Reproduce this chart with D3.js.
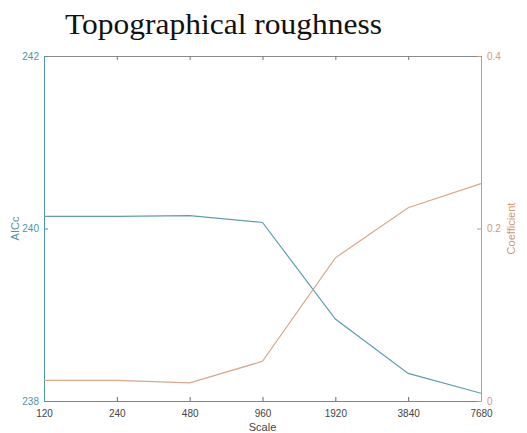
<!DOCTYPE html>
<html><head><meta charset="utf-8">
<script src="https://cdn.jsdelivr.net/npm/d3@7"></script>
<style>body{margin:0;background:#fff}svg{display:block}</style>
</head><body>
<svg id="c" width="527" height="433"></svg>
<script>
const scales = ["120","240","480","960","1920","3840","7680"];
const aicc = [240.14, 240.14, 240.15, 240.07, 238.95, 238.32, 238.09];
const coef = [0.024, 0.024, 0.021, 0.046, 0.166, 0.224, 0.252];
const leftTicks = [238, 240, 242];
const rightTicks = [0, 0.2, 0.4];

const svg = d3.select("#c");
const L = 44, R = 481, T = 56, B = 401;
const blue = "#4f93a8", orange = "#cf9a78";
const blueLine = "#5f9db3", orangeLine = "#d8a88a";
const x = d3.scalePoint().domain(scales).range([L, R]);
const yL = d3.scaleLinear().domain([238, 242]).range([B, T]);
const yR = d3.scaleLinear().domain([0, 0.4]).range([B, T]);

svg.append("rect").attr("x",0).attr("y",0).attr("width",527).attr("height",433).attr("fill","#fff");

// title
svg.append("text").attr("x", 65).attr("y", 34)
  .attr("font-family","Liberation Serif, Times New Roman, serif").attr("font-size",29)
  .attr("textLength",317).attr("lengthAdjust","spacingAndGlyphs")
  .attr("fill","#111").text("Topographical roughness");

// frame top
svg.append("line").attr("x1",L).attr("x2",R).attr("y1",T+0.5).attr("y2",T+0.5).attr("stroke","#8a8a8a");
// bottom axis
const xb = svg.append("g").attr("transform",`translate(0,${B})`)
  .call(d3.axisBottom(x).tickSizeInner(-4).tickSizeOuter(0).tickPadding(9));
xb.select(".domain").attr("stroke","#6f8a92");
xb.selectAll(".tick line").attr("stroke","#666");
xb.selectAll("text").attr("font-family","Liberation Sans, Arial, sans-serif").attr("font-size",10).attr("fill","#444");
// top ticks
svg.append("g").attr("transform",`translate(0,${T})`)
  .call(d3.axisTop(x).tickSizeInner(-4).tickSizeOuter(0).tickFormat(""))
  .call(g=>{g.select(".domain").remove();g.selectAll(".tick line").attr("stroke","#777");});

// left axis
const yl = svg.append("g").attr("transform",`translate(${L},0)`)
  .call(d3.axisLeft(yL).tickValues(leftTicks).tickFormat(d3.format("~g")).tickSizeInner(-4).tickSizeOuter(0).tickPadding(5));
yl.select(".domain").attr("stroke",blue);
yl.selectAll(".tick line").attr("stroke",blue);
yl.selectAll("text").attr("font-family","Liberation Sans, Arial, sans-serif").attr("font-size",10).attr("fill",blue);

// right axis
const yr = svg.append("g").attr("transform",`translate(${R},0)`)
  .call(d3.axisRight(yR).tickValues(rightTicks).tickFormat(d3.format("~g")).tickSizeInner(-4).tickSizeOuter(0).tickPadding(6));
yr.select(".domain").attr("stroke",orange);
yr.selectAll(".tick line").attr("stroke",orange);
yr.selectAll("text").attr("font-family","Liberation Sans, Arial, sans-serif").attr("font-size",10).attr("fill",orange);

// axis labels
svg.append("text").attr("x",(L+R)/2).attr("y",431).attr("text-anchor","middle")
  .attr("font-family","Liberation Sans, Arial, sans-serif").attr("font-size",11).attr("fill","#444").text("Scale");
svg.append("text").attr("transform",`translate(19,${(T+B)/2}) rotate(-90)`).attr("text-anchor","middle")
  .attr("font-family","Liberation Sans, Arial, sans-serif").attr("font-size",11).attr("fill",blue).text("AICc");
svg.append("text").attr("transform",`translate(515,${(T+B)/2}) rotate(-90)`).attr("text-anchor","middle")
  .attr("font-family","Liberation Sans, Arial, sans-serif").attr("font-size",11).attr("fill",orange).text("Coefficient");

// lines
svg.append("path").datum(scales.map((s,i)=>[x(s), yL(aicc[i])]))
  .attr("d", d3.line()).attr("fill","none").attr("stroke",blueLine).attr("stroke-width",1.2);
svg.append("path").datum(scales.map((s,i)=>[x(s), yR(coef[i])]))
  .attr("d", d3.line()).attr("fill","none").attr("stroke",orangeLine).attr("stroke-width",1.2);
</script>
</body></html>
